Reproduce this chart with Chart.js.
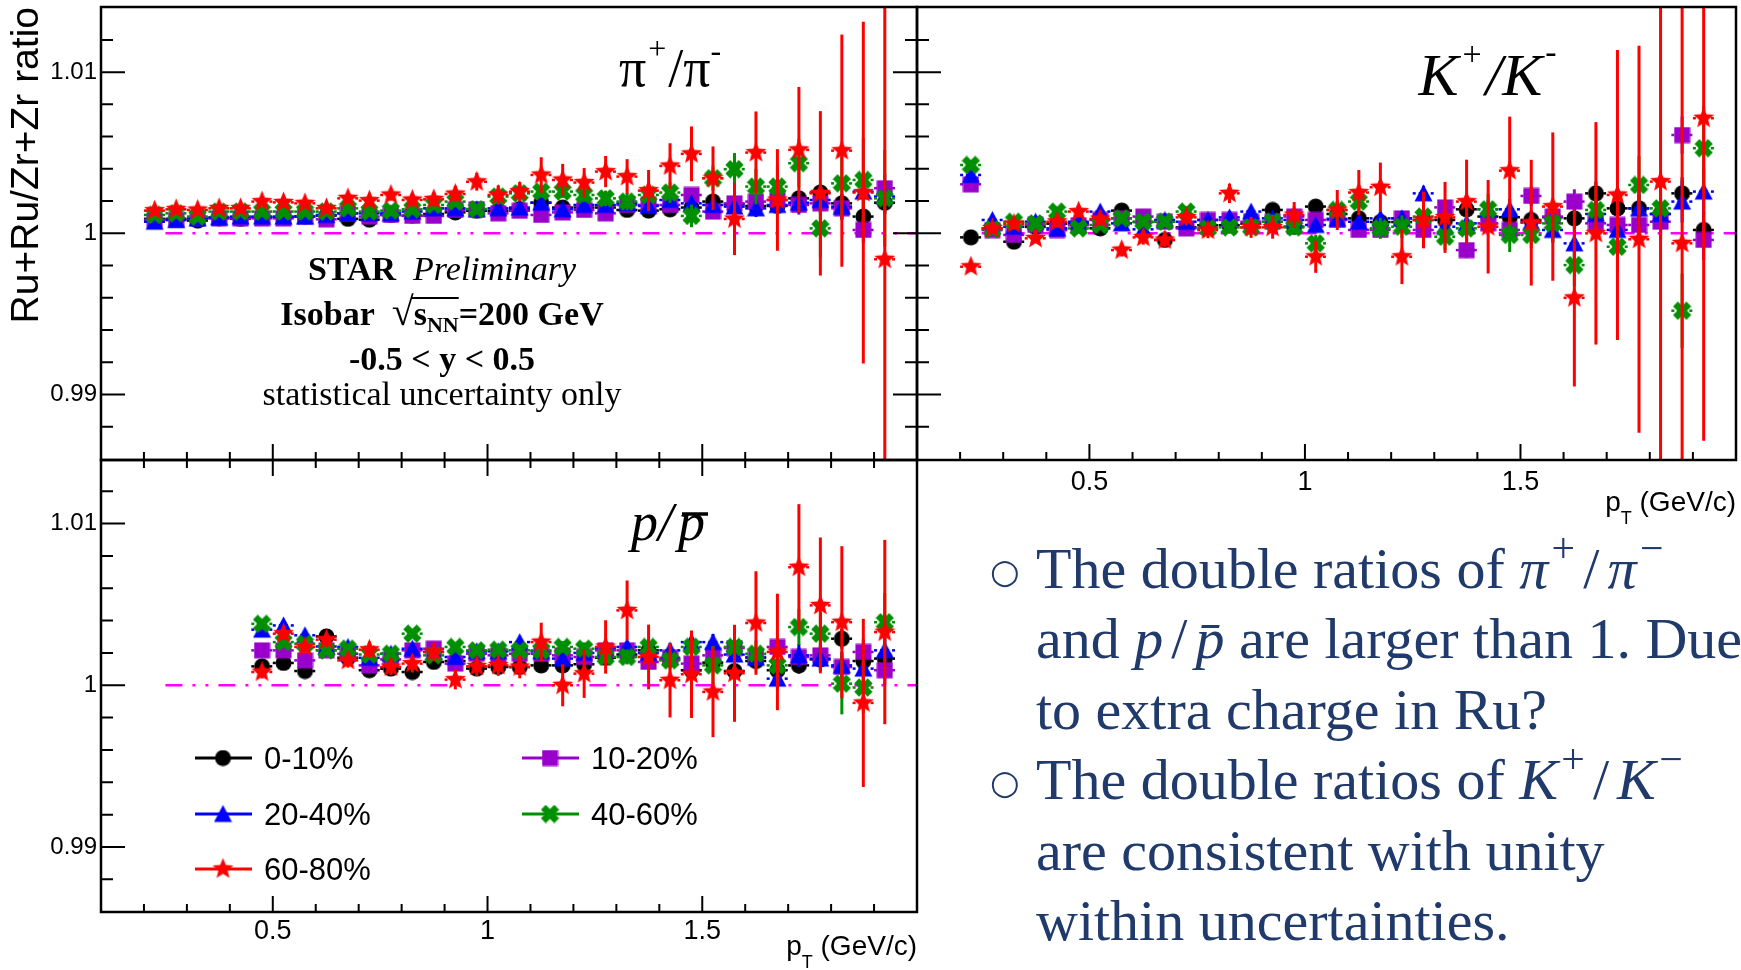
<!DOCTYPE html>
<html>
<head>
<meta charset="utf-8">
<script src="https://cdn.jsdelivr.net/npm/chart.js@4.4.1/dist/chart.umd.min.js"></script>
<style>
    body { margin: 0; width: 1741px; height: 970px; overflow: hidden; background: #fff; position: relative; }
    canvas { position: absolute; }
    #notes { position: absolute; left: 1036px; top: 534px; font-family: 'Liberation Serif', 'Times New Roman', serif;
             font-size: 58px; line-height: 70.4px; color: #1f3a6b; white-space: nowrap; }
    #notes .ln { position: relative; height: 70.4px; }
    #notes .bul { position: absolute; left: -46px; top: 20px; font-family: 'DejaVu Sans', sans-serif; font-size: 34px; line-height: 34px; }
    #notes sup { font-size: 0.72em; line-height: 0; vertical-align: 0.62em; padding-left: 0.08em; }
    #notes .sl { padding: 0 0.14em; }
</style>
</head>
<body>
<canvas id="piChart" width="925" height="470" style="left:0;top:0"></canvas>
<canvas id="kChart" width="836" height="530" style="left:905px;top:0"></canvas>
<canvas id="pChart" width="925" height="520" style="left:0;top:450px"></canvas>

<div id="notes">
    <div class="ln"><span class="bul">○</span>The double ratios of <i>π</i><sup>+</sup><span class="sl">/</span><i>π</i><sup>−</sup></div>
    <div class="ln">and <i>p</i><span class="sl">/</span><i>p̄</i> are larger than 1. Due</div>
    <div class="ln">to extra charge in Ru?</div>
    <div class="ln"><span class="bul">○</span>The double ratios of <i>K</i><sup>+</sup><span class="sl">/</span><i>K</i><sup>−</sup></div>
    <div class="ln">are consistent with unity</div>
    <div class="ln">within uncertainties.</div>
</div>

<script>
// --- datos: pT de cada bin ---
const PT_PI = [0.225, 0.275, 0.325, 0.375, 0.425, 0.475, 0.525, 0.575, 0.625, 0.675, 0.725, 0.775, 0.825, 0.875, 0.925, 0.975, 1.025, 1.075, 1.125, 1.175, 1.225, 1.275, 1.325, 1.375, 1.425, 1.475, 1.525, 1.575, 1.625, 1.675, 1.725, 1.775, 1.825, 1.875, 1.925];
const PT_K = [0.225, 0.275, 0.325, 0.375, 0.425, 0.475, 0.525, 0.575, 0.625, 0.675, 0.725, 0.775, 0.825, 0.875, 0.925, 0.975, 1.025, 1.075, 1.125, 1.175, 1.225, 1.275, 1.325, 1.375, 1.425, 1.475, 1.525, 1.575, 1.625, 1.675, 1.725, 1.775, 1.825, 1.875, 1.925];
const PT_P = [0.475, 0.525, 0.575, 0.625, 0.675, 0.725, 0.775, 0.825, 0.875, 0.925, 0.975, 1.025, 1.075, 1.125, 1.175, 1.225, 1.275, 1.325, 1.375, 1.425, 1.475, 1.525, 1.575, 1.625, 1.675, 1.725, 1.775, 1.825, 1.875, 1.925];

const CENTRALITY = ["0-10%", "10-20%", "20-40%", "40-60%", "60-80%"];

// --- pi+/pi- ---
const PI_0_10  = [1.0009, 1.0009, 1.00079, 1.00095, 1.0009, 1.001, 1.001, 1.00105, 1.0011, 1.0009, 1.00085, 1.00114, 1.0011, 1.0012, 1.0013, 1.0014, 1.0014, 1.0015, 1.0019, 1.0016, 1.0016, 1.0016, 1.00145, 1.00141, 1.00149, 1.0016, 1.00197, 1.0018, 1.0017, 1.0017, 1.00217, 1.00253, 1.00186, 1.00104, 1.0019];
const PI_10_20 = [1.00083, 1.00083, 1.00093, 1.00093, 1.00093, 1.00093, 1.00093, 1.00104, 1.00087, 1.00124, 1.00104, 1.00114, 1.00108, 1.00108, 1.00145, 1.0015, 1.00124, 1.0014, 1.00114, 1.0013, 1.00145, 1.00124, 1.00176, 1.00176, 1.00176, 1.00238, 1.00135, 1.00186, 1.00197, 1.00207, 1.00176, 1.00186, 1.00155, 1.00021, 1.0028];
const PI_20_40 = [1.00072, 1.00083, 1.00093, 1.00099, 1.00104, 1.00104, 1.00104, 1.00104, 1.00114, 1.00124, 1.00124, 1.00124, 1.00135, 1.00155, 1.00155, 1.0015, 1.00155, 1.0016, 1.0019, 1.00149, 1.00176, 1.00176, 1.00186, 1.0017, 1.00207, 1.00186, 1.00176, 1.00166, 1.00155, 1.00176, 1.0019, 1.00207, 1.00166, 1.00259, 1.00228];
const PI_40_60 = [1.00114, 1.00124, 1.00104, 1.00135, 1.00135, 1.00135, 1.00135, 1.00135, 1.00135, 1.00155, 1.00135, 1.00141, 1.00149, 1.00176, 1.00197, 1.0015, 1.00228, 1.00248, 1.00259, 1.00259, 1.00238, 1.00217, 1.00197, 1.00238, 1.00253, 1.00108, 1.00342, 1.00398, 1.0029, 1.0029, 1.00435, 1.00031, 1.0031, 1.00331, 1.00217];
const PI_60_80 = [1.00141, 1.00149, 1.00145, 1.00155, 1.00155, 1.00197, 1.00192, 1.00186, 1.00155, 1.00217, 1.00203, 1.00238, 1.00207, 1.00211, 1.00244, 1.0032, 1.00238, 1.00259, 1.00362, 1.00331, 1.00315, 1.00383, 1.00352, 1.00265, 1.00418, 1.00493, 1.00342, 1.00089, 1.00501, 1.00207, 1.00518, 1.00248, 1.00513, 1.00253, 0.99839];

const PI_0_10_ERR  = [0.00008, 0.00008, 0.00008, 0.00008, 0.00008, 0.00008, 0.00008, 0.00009, 0.00009, 0.00009, 0.0001, 0.0001, 0.00011, 0.00011, 0.00012, 0.00013, 0.00014, 0.00015, 0.00016, 0.00018, 0.0002, 0.00022, 0.00024, 0.00026, 0.00028, 0.00031, 0.00034, 0.00037, 0.0004, 0.00044, 0.00048, 0.00053, 0.00058, 0.00064, 0.0007];
const PI_10_20_ERR = [0.0001, 0.0001, 0.0001, 0.0001, 0.0001, 0.0001, 0.0001, 0.00011, 0.00011, 0.00011, 0.00012, 0.00012, 0.00013, 0.00014, 0.00015, 0.00016, 0.00017, 0.00018, 0.0002, 0.00022, 0.00024, 0.00026, 0.00029, 0.00032, 0.00035, 0.00038, 0.00042, 0.00046, 0.0005, 0.00055, 0.0006, 0.00066, 0.00072, 0.0008, 0.00088];
const PI_20_40_ERR = [0.0001, 0.0001, 0.0001, 0.0001, 0.0001, 0.0001, 0.00011, 0.00011, 0.00012, 0.00012, 0.00013, 0.00013, 0.00014, 0.00015, 0.00016, 0.00017, 0.00018, 0.0002, 0.00022, 0.00024, 0.00026, 0.00028, 0.00031, 0.00034, 0.00037, 0.00041, 0.00045, 0.00049, 0.00054, 0.00059, 0.00065, 0.00071, 0.00078, 0.00086, 0.00095];
const PI_40_60_ERR = [0.00015, 0.00015, 0.00015, 0.00015, 0.00015, 0.00016, 0.00016, 0.00017, 0.00018, 0.00019, 0.0002, 0.00021, 0.00022, 0.00024, 0.00026, 0.00028, 0.0003, 0.00033, 0.00036, 0.0004, 0.00044, 0.00048, 0.00053, 0.00058, 0.00064, 0.0007, 0.00078, 0.001, 0.0011, 0.0013, 0.0015, 0.0018, 0.0022, 0.0026, 0.003];
const PI_60_80_ERR = [0.0002, 0.0002, 0.0002, 0.0002, 0.0002, 0.00025, 0.00025, 0.00025, 0.0003, 0.0003, 0.00035, 0.00035, 0.0004, 0.00045, 0.0005, 0.00055, 0.0006, 0.0006, 0.0011, 0.001, 0.0009, 0.00097, 0.00108, 0.00128, 0.00141, 0.0017, 0.00197, 0.00224, 0.00255, 0.00315, 0.0039, 0.0051, 0.0072, 0.0106, 0.02];

// --- K+/K- ---
const K_0_10  = [0.99975, 1.0003, 0.99948, 1.0004, 1.0006, 1.0006, 1.00031, 1.00141, 1.0007, 0.99959, 1.00037, 1.0005, 1.0005, 1.0006, 1.00145, 1.00041, 1.00166, 1.0012, 1.00093, 1.0007, 1.0007, 1.00083, 1.00083, 1.00149, 1.00104, 1.001, 1.00083, 1.001, 1.00093, 1.00248, 1.00155, 1.00155, 1.0012, 1.00248, 1.00021];
const K_10_20 = [1.00304, 1.0002, 0.9999, 1.00052, 1.0002, 1.0005, 1.00083, 1.00093, 1.00104, 1.00072, 1.00031, 1.00083, 1.00083, 1.00072, 1.00072, 1.00104, 1.00083, 1.00083, 1.00021, 1.00021, 1.00093, 1.00021, 1.00161, 0.99896, 1.00062, 1.00021, 1.00232, 1.00104, 1.00197, 1.00062, 1.00052, 1.00052, 1.00072, 1.0061, 0.99959];
const K_20_40 = [1.00362, 1.00083, 1.00041, 1.00072, 1.00031, 1.00072, 1.00135, 1.00062, 1.00025, 1.00083, 1.00072, 1.00083, 1.00099, 1.00135, 1.00093, 1.00083, 1.00052, 1.0009, 1.00072, 1.00093, 1.00093, 1.00248, 1.00041, 1.00062, 1.00149, 1.00149, 1.0007, 1.00021, 0.99938, 1.0012, 1.00021, 1.00155, 1.0012, 1.00197, 1.00259];
const K_40_60 = [1.00424, 1.00025, 1.00072, 1.00062, 1.00135, 1.00031, 1.00052, 1.00093, 1.00072, 1.00072, 1.00135, 1.00031, 1.00037, 1.00037, 1.00072, 1.00037, 0.99938, 1.00145, 1.00197, 1.00031, 1.00041, 1.00104, 0.99979, 1.00031, 1.00149, 0.9999, 0.9999, 1.00062, 0.99803, 1.00145, 0.99917, 1.003, 1.00155, 0.9952, 1.00528];
const K_60_80 = [0.99793, 1.00031, 1.00058, 0.99969, 1.00072, 1.00135, 1.00089, 0.99896, 0.99975, 0.99959, 1.00099, 1.0002, 1.00248, 1.00037, 1.00037, 1.00114, 0.99855, 1.00145, 1.00253, 1.00286, 0.99855, 1.00083, 1.00099, 1.00197, 1.00041, 1.00389, 1.00066, 1.00166, 0.996, 1.0, 1.00238, 0.99963, 1.00321, 0.99938, 1.00714];

const K_0_10_ERR  = [0.00012, 0.00012, 0.00012, 0.00012, 0.00012, 0.00013, 0.00013, 0.00014, 0.00014, 0.00015, 0.00016, 0.00017, 0.00018, 0.00019, 0.0002, 0.00022, 0.00024, 0.00026, 0.00028, 0.0003, 0.00033, 0.00036, 0.00039, 0.00042, 0.00046, 0.0005, 0.00055, 0.0006, 0.00066, 0.00072, 0.00079, 0.00086, 0.00094, 0.001, 0.0011];
const K_10_20_ERR = [0.00014, 0.00014, 0.00014, 0.00014, 0.00014, 0.00015, 0.00015, 0.00016, 0.00016, 0.00017, 0.00018, 0.00019, 0.0002, 0.00022, 0.00023, 0.00025, 0.00027, 0.0003, 0.00032, 0.00035, 0.00038, 0.00041, 0.00045, 0.00048, 0.00053, 0.00058, 0.00063, 0.00069, 0.00076, 0.00083, 0.0009, 0.00099, 0.00108, 0.00115, 0.00126];
const K_20_40_ERR = [0.00016, 0.00016, 0.00016, 0.00016, 0.00016, 0.00017, 0.00017, 0.00018, 0.00018, 0.0002, 0.00021, 0.00022, 0.00023, 0.00025, 0.00026, 0.00029, 0.00031, 0.00034, 0.00036, 0.00039, 0.00043, 0.00047, 0.00051, 0.00055, 0.0006, 0.00065, 0.00072, 0.00078, 0.00086, 0.00094, 0.00103, 0.00112, 0.00122, 0.0013, 0.00143];
const K_40_60_ERR = [0.0002, 0.0002, 0.0002, 0.0002, 0.0002, 0.00022, 0.00024, 0.00026, 0.00028, 0.0003, 0.00032, 0.00034, 0.00036, 0.0004, 0.00044, 0.00048, 0.00052, 0.00056, 0.0006, 0.00065, 0.0007, 0.00076, 0.00082, 0.0009, 0.00098, 0.00106, 0.0008, 0.0012, 0.0013, 0.0014, 0.0016, 0.0018, 0.002, 0.0023, 0.0026];
const K_60_80_ERR = [0.0003, 0.0003, 0.0003, 0.0003, 0.00035, 0.00035, 0.0004, 0.0004, 0.00045, 0.00045, 0.0005, 0.0005, 0.0006, 0.00065, 0.0007, 0.0008, 0.001, 0.00124, 0.0014, 0.00153, 0.0017, 0.00176, 0.0022, 0.0026, 0.0029, 0.00335, 0.0039, 0.0046, 0.0055, 0.0069, 0.009, 0.012, 0.018, 0.02, 0.02];

// --- p/pbar ---
const P_0_10  = [1.00117, 1.00138, 1.00088, 1.00302, 1.0017, 1.00093, 1.00103, 1.00082, 1.00144, 1.0015, 1.00103, 1.00113, 1.00113, 1.00123, 1.00123, 1.0013, 1.0017, 1.0019, 1.00216, 1.0016, 1.00093, 1.0014, 1.00088, 1.0015, 1.00093, 1.00123, 1.0016, 1.00288, 1.0015, 1.00165];
const P_10_20 = [1.00216, 1.00216, 1.00154, 1.00216, 1.00195, 1.00123, 1.0016, 1.00216, 1.00226, 1.00134, 1.00195, 1.00185, 1.00195, 1.00195, 1.00185, 1.00175, 1.00216, 1.00216, 1.00144, 1.0017, 1.00134, 1.00185, 1.0023, 1.00175, 1.00237, 1.00175, 1.00185, 1.00113, 1.00206, 1.00093];
const P_20_40 = [1.00344, 1.0037, 1.00309, 1.0024, 1.00237, 1.0017, 1.00195, 1.00226, 1.00206, 1.00175, 1.0021, 1.0021, 1.00267, 1.0021, 1.00165, 1.002, 1.0023, 1.00237, 1.002, 1.00216, 1.00267, 1.00267, 1.0019, 1.0017, 1.00041, 1.00185, 1.00165, 1.00123, 1.00103, 1.00216];
const P_40_60 = [1.0038, 1.00267, 1.00257, 1.00216, 1.00226, 1.0019, 1.00195, 1.00319, 1.00185, 1.00237, 1.00216, 1.0022, 1.00216, 1.00216, 1.00237, 1.00226, 1.00175, 1.00175, 1.00237, 1.00154, 1.00237, 1.00123, 1.00237, 1.00195, 1.00123, 1.0036, 1.00319, 1.0001, 0.99986, 1.0039];
const P_60_80 = [1.00082, 1.00319, 1.00237, 1.00282, 1.00154, 1.0022, 1.00113, 1.00134, 1.00206, 1.00035, 1.00117, 1.00123, 1.00113, 1.00267, 1.0, 1.00072, 1.00237, 1.00463, 1.00175, 1.00031, 1.00068, 0.99959, 1.00074, 1.00385, 1.00206, 1.0073, 1.00494, 1.0039, 0.99891, 1.00329];

const P_0_10_ERR  = [0.00012, 0.00012, 0.00012, 0.00013, 0.00013, 0.00013, 0.00014, 0.00014, 0.00015, 0.00015, 0.00016, 0.00017, 0.00018, 0.00019, 0.0002, 0.00022, 0.00024, 0.00026, 0.00028, 0.0003, 0.00033, 0.00036, 0.00039, 0.00043, 0.00047, 0.00051, 0.00056, 0.00062, 0.00068, 0.00075];
const P_10_20_ERR = [0.00014, 0.00014, 0.00014, 0.00015, 0.00015, 0.00015, 0.00016, 0.00016, 0.00017, 0.00018, 0.00019, 0.0002, 0.00021, 0.00022, 0.00024, 0.00026, 0.00028, 0.0003, 0.00033, 0.00036, 0.00039, 0.00042, 0.00046, 0.0005, 0.00055, 0.0006, 0.00066, 0.00072, 0.00079, 0.00087];
const P_20_40_ERR = [0.00016, 0.00016, 0.00016, 0.00017, 0.00017, 0.00018, 0.00018, 0.00019, 0.0002, 0.00021, 0.00022, 0.00023, 0.00025, 0.00026, 0.00028, 0.0003, 0.00033, 0.00036, 0.00039, 0.00042, 0.00046, 0.0005, 0.00055, 0.0006, 0.00065, 0.00071, 0.00078, 0.00085, 0.00093, 0.001];
const P_40_60_ERR = [0.0002, 0.0002, 0.0002, 0.0002, 0.0002, 0.00022, 0.00022, 0.00024, 0.00024, 0.00026, 0.00028, 0.0003, 0.00032, 0.00034, 0.00036, 0.00039, 0.00042, 0.00046, 0.0005, 0.00055, 0.001, 0.0012, 0.0007, 0.0008, 0.0009, 0.0011, 0.0013, 0.0019, 0.0016, 0.0018];
const P_60_80_ERR = [0.0004, 0.0004, 0.0004, 0.00045, 0.00045, 0.0005, 0.0005, 0.00055, 0.00055, 0.0006, 0.0006, 0.00065, 0.0007, 0.0012, 0.0013, 0.0015, 0.00165, 0.00185, 0.002, 0.0023, 0.0027, 0.0028, 0.003, 0.0032, 0.0036, 0.0039, 0.0042, 0.0047, 0.0052, 0.0057];

// --- ejes ---
const X_RANGE = [0.1, 2.0];
const Y_RANGE_TOP = [0.98594, 1.01404];
const Y_RANGE_BOTTOM = [0.98598, 1.01393];
const X_MAJOR = [0.5, 1.0, 1.5];
const X_TICK_LABELS = ["0.5", "1", "1.5"];
const X_MINOR = [0.2, 0.3, 0.4, 0.6, 0.7, 0.8, 0.9, 1.1, 1.2, 1.3, 1.4, 1.6, 1.7, 1.8, 1.9];
const Y_MAJOR = [0.99, 1.0, 1.01];
const Y_TICK_LABELS = ["0.99", "1", "1.01"];
const Y_MINOR = [0.988, 0.992, 0.994, 0.996, 0.998, 1.002, 1.004, 1.006, 1.008, 1.012];
const UNITY_X = [0.25, 2.0];
const UNITY_Y = 1.0;
const BIN_HALF = 0.025;

const SANS = "'Liberation Sans', Arial, sans-serif";
const SERIF = "'Liberation Serif', 'Times New Roman', serif";

const SERIES_STYLE = [
    { color: "#000000", shape: "circle", size: 17 },
    { color: "#9900cc", shape: "square", size: 17 },
    { color: "#0000ff", shape: "triangle", size: 19 },
    { color: "#008f00", shape: "cross", size: 19 },
    { color: "#ff0000", shape: "star", size: 23 }
];

// --- marcadores tipo ROOT ---
function markerCanvas(shape, color, size) {
    const c = document.createElement("canvas");
    c.width = size; c.height = size;
    const g = c.getContext("2d");
    const m = size / 2;
    g.fillStyle = color;
    g.beginPath();
    if (shape === "circle") {
        g.arc(m, m, m - 0.5, 0, Math.PI * 2);
    } else if (shape === "square") {
        g.rect(0.5, 0.5, size - 1, size - 1);
    } else if (shape === "triangle") {
        g.moveTo(m, 0.5); g.lineTo(size - 0.5, size - 1.5); g.lineTo(0.5, size - 1.5); g.closePath();
    } else if (shape === "star") {
        for (let i = 0; i < 10; i++) {
            const r = i % 2 ? m * 0.42 : m - 0.5;
            const a = -Math.PI / 2 + i * Math.PI / 5;
            g.lineTo(m + r * Math.cos(a), m + r * Math.sin(a));
        }
        g.closePath();
    }
    g.fill();
    if (shape === "cross") {
        const w = size * 0.36;
        g.translate(m, m);
        g.rotate(Math.PI / 4);
        g.fillRect(-m, -w / 2, 2 * m, w);
        g.fillRect(-w / 2, -m, w, 2 * m);
    }
    return c;
}
const MARKERS = SERIES_STYLE.map(s => markerCanvas(s.shape, s.color, s.size));

function buildDatasets(pt, values, errors) {
    const sets = values.map((vals, k) => ({
        label: CENTRALITY[k],
        data: pt.map((x, i) => ({ x: x, y: vals[i] })),
        errors: errors[k],
        borderColor: SERIES_STYLE[k].color,
        backgroundColor: SERIES_STYLE[k].color,
        pointStyle: MARKERS[k],
        pointRadius: 9,
        order: 4 - k
    }));
    sets.push({
        label: "unity",
        data: UNITY_X.map(x => ({ x: x, y: UNITY_Y })),
        showLine: true,
        borderColor: "#ff00ff",
        borderWidth: 2.5,
        borderDash: [17, 10, 3, 10, 3, 10],
        pointRadius: 0,
        order: 10
    });
    return sets;
}

// --- barras de error (verticales sólidas, horizontales punteadas) ---
const errorBarPlugin = {
    id: "errorBars",
    beforeDatasetDraw(chart, args) {
        const ds = chart.data.datasets[args.index];
        if (!ds.errors) return;
        const { ctx, chartArea: a } = chart;
        const x = chart.scales.x, y = chart.scales.y;
        ctx.save();
        ctx.beginPath();
        ctx.rect(a.left, a.top, a.width, a.height);
        ctx.clip();
        ctx.strokeStyle = ds.borderColor;
        ds.data.forEach((p, i) => {
            const px = x.getPixelForValue(p.x);
            const py = y.getPixelForValue(p.y);
            ctx.setLineDash([]);
            ctx.lineWidth = 3;
            ctx.beginPath();
            ctx.moveTo(px, y.getPixelForValue(p.y - ds.errors[i]));
            ctx.lineTo(px, y.getPixelForValue(p.y + ds.errors[i]));
            ctx.stroke();
            ctx.setLineDash([3, 3]);
            ctx.lineWidth = 2.5;
            ctx.beginPath();
            ctx.moveTo(x.getPixelForValue(p.x - BIN_HALF), py);
            ctx.lineTo(x.getPixelForValue(p.x + BIN_HALF), py);
            ctx.stroke();
        });
        ctx.restore();
    }
};

// --- marco y ticks hacia adentro ---
const framePlugin = {
    id: "frame",
    afterDraw(chart, args, o) {
        const { ctx, chartArea: a } = chart;
        const x = chart.scales.x, y = chart.scales.y;
        ctx.save();
        ctx.strokeStyle = "#000";
        ctx.lineWidth = 2;
        ctx.beginPath();
        const yTick = (v, len) => {
            const py = y.getPixelForValue(v);
            if (o.left) { ctx.moveTo(a.left, py); ctx.lineTo(a.left + len, py); }
            if (o.right) { ctx.moveTo(a.right, py); ctx.lineTo(a.right - len, py); }
        };
        const xTick = (v, len) => {
            const px = x.getPixelForValue(v);
            if (o.bottom) { ctx.moveTo(px, a.bottom); ctx.lineTo(px, a.bottom - len); }
            if (o.top) { ctx.moveTo(px, a.top); ctx.lineTo(px, a.top + len); }
        };
        Y_MAJOR.forEach(v => yTick(v, 24));
        Y_MINOR.forEach(v => yTick(v, 12));
        X_MAJOR.forEach(v => xTick(v, 16));
        X_MINOR.forEach(v => xTick(v, 8));
        ctx.stroke();
        ctx.lineWidth = 2.5;
        ctx.strokeRect(a.left, a.top, a.width, a.height);
        ctx.restore();
    }
};

// texto con tramos de distinta fuente
function drawRuns(ctx, runs, x, y, align) {
    let total = 0;
    runs.forEach(r => { ctx.font = r.f; r.w = ctx.measureText(r.t).width + (r.gap || 0); total += r.w; });
    let cx = align === "center" ? x - total / 2 : align === "right" ? x - total : x;
    ctx.textAlign = "left";
    ctx.textBaseline = "alphabetic";
    runs.forEach(r => {
        ctx.font = r.f;
        ctx.fillText(r.t, cx + (r.gap || 0) / 2, y + (r.dy || 0));
        r.x0 = cx;
        cx += r.w;
    });
    return runs;
}

function ptTitle(ctx, x, y) {
    ctx.fillStyle = "#000";
    drawRuns(ctx, [
        { t: "p", f: `28px ${SANS}` },
        { t: "T", f: `18px ${SANS}`, dy: 13 },
        { t: " (GeV/c)", f: `28px ${SANS}` }
    ], x, y, "right");
}

function xScale(show, height, pad) {
    return {
        type: "linear", min: X_RANGE[0], max: X_RANGE[1], display: show,
        grid: { display: false, drawTicks: false }, border: { display: false },
        afterBuildTicks: s => { s.ticks = X_MAJOR.map(v => ({ value: v })); },
        afterFit: s => { s.height = height; s.paddingLeft = 0; s.paddingRight = 0; },
        ticks: { padding: pad, color: "#000", autoSkip: false, maxRotation: 0,
                 font: { family: SANS, size: 27 }, callback: (v, i) => X_TICK_LABELS[i] }
    };
}

function yScale(show, range, title) {
    return {
        type: "linear", min: range[0], max: range[1], display: show,
        grid: { display: false, drawTicks: false }, border: { display: false },
        afterBuildTicks: s => { s.ticks = Y_MAJOR.map(v => ({ value: v })); },
        afterFit: s => { s.width = show ? 101 : 0; s.paddingTop = 0; s.paddingBottom = 0; },
        ticks: { padding: 4, color: "#000", autoSkip: false,
                 font: { family: SANS, size: 24 }, callback: (v, i) => Y_TICK_LABELS[i] },
        title: title ? { display: true, text: title, align: "end", color: "#000",
                         font: { family: SANS, size: 39 }, padding: { top: 4, bottom: 0 } } : { display: false }
    };
}

function baseOptions(padding, frame, xs, ys) {
    return {
        responsive: false, animation: false, devicePixelRatio: 1, events: [],
        layout: { padding: padding, autoPadding: false },
        plugins: { legend: { display: false }, tooltip: { enabled: false }, frame: frame },
        scales: { x: xs, y: ys }
    };
}

// --- pi+/pi- ---
new Chart(document.getElementById("piChart"), {
    type: "scatter",
    data: { datasets: buildDatasets(PT_PI, [PI_0_10, PI_10_20, PI_20_40, PI_40_60, PI_60_80],
                                    [PI_0_10_ERR, PI_10_20_ERR, PI_20_40_ERR, PI_40_60_ERR, PI_60_80_ERR]) },
    options: baseOptions({ left: 0, top: 7, right: 8, bottom: 10 },
                         { left: true, right: true, bottom: true },
                         xScale(false, 0, 0), yScale(true, Y_RANGE_TOP, "Ru+Ru/Zr+Zr ratio")),
    plugins: [errorBarPlugin, framePlugin, {
        id: "piText",
        afterDraw(chart) {
            const ctx = chart.ctx;
            ctx.save();
            ctx.fillStyle = "#000";
            drawRuns(ctx, [
                { t: "π", f: `54px ${SERIF}` },
                { t: "+", f: `32px ${SERIF}`, dy: -27, gap: 4 },
                { t: "/", f: `54px ${SERIF}` },
                { t: "π", f: `54px ${SERIF}` },
                { t: "-", f: `32px ${SERIF}`, dy: -25 }
            ], 670, 86, "center");

            drawRuns(ctx, [
                { t: "STAR", f: `bold 34px ${SERIF}` },
                { t: "  ", f: `34px ${SERIF}` },
                { t: "Preliminary", f: `italic 34px ${SERIF}` }
            ], 442, 280, "center");
            const r = drawRuns(ctx, [
                { t: "Isobar", f: `bold 34px ${SERIF}` },
                { t: "  ", f: `bold 34px ${SERIF}` },
                { t: "√", f: `40px ${SERIF}` },
                { t: "s", f: `bold 34px ${SERIF}` },
                { t: "NN", f: `bold 22px ${SERIF}`, dy: 7 },
                { t: "=200 GeV", f: `bold 34px ${SERIF}` }
            ], 442, 325, "center");
            ctx.lineWidth = 2;
            ctx.beginPath();
            ctx.moveTo(r[2].x0 + r[2].w - 2, 298);
            ctx.lineTo(r[4].x0 + r[4].w, 298);
            ctx.stroke();
            drawRuns(ctx, [{ t: "-0.5 < y < 0.5", f: `bold 34px ${SERIF}` }], 442, 370, "center");
            drawRuns(ctx, [{ t: "statistical uncertainty only", f: `34px ${SERIF}` }], 442, 405, "center");
            ctx.restore();
        }
    }]
});

// --- K+/K- ---
new Chart(document.getElementById("kChart"), {
    type: "scatter",
    data: { datasets: buildDatasets(PT_K, [K_0_10, K_10_20, K_20_40, K_40_60, K_60_80],
                                    [K_0_10_ERR, K_10_20_ERR, K_20_40_ERR, K_40_60_ERR, K_60_80_ERR]) },
    options: baseOptions({ left: 12, top: 7, right: 5, bottom: 0 },
                         { left: true, bottom: true },
                         xScale(true, 70, 6), yScale(false, Y_RANGE_TOP, null)),
    plugins: [errorBarPlugin, framePlugin, {
        id: "kText",
        afterDraw(chart) {
            const ctx = chart.ctx;
            ctx.save();
            ctx.fillStyle = "#000";
            drawRuns(ctx, [
                { t: "K", f: `italic 60px ${SERIF}` },
                { t: "+", f: `34px ${SERIF}`, dy: -30, gap: 8 },
                { t: "/", f: `italic 60px ${SERIF}` },
                { t: "K", f: `italic 60px ${SERIF}` },
                { t: "-", f: `34px ${SERIF}`, dy: -32, gap: 6 }
            ], 584, 95, "center");
            ptTitle(ctx, chart.chartArea.right, 511);
            ctx.restore();
        }
    }]
});

// --- p/pbar + leyenda ---
new Chart(document.getElementById("pChart"), {
    type: "scatter",
    data: { datasets: buildDatasets(PT_P, [P_0_10, P_10_20, P_20_40, P_40_60, P_60_80],
                                    [P_0_10_ERR, P_10_20_ERR, P_20_40_ERR, P_40_60_ERR, P_60_80_ERR]) },
    options: baseOptions({ left: 0, top: 10, right: 8, bottom: 0 },
                         { left: true, top: true, bottom: true },
                         xScale(true, 58, 3), yScale(true, Y_RANGE_BOTTOM, null)),
    plugins: [errorBarPlugin, framePlugin, {
        id: "pText",
        afterDraw(chart) {
            const ctx = chart.ctx;
            ctx.save();
            ctx.fillStyle = "#000";
            ctx.strokeStyle = "#000";
            const r = drawRuns(ctx, [
                { t: "p", f: `italic 54px ${SERIF}` },
                { t: "/", f: `italic 54px ${SERIF}` },
                { t: " ", f: `20px ${SERIF}` },
                { t: "p", f: `italic 54px ${SERIF}` }
            ], 668, 90, "center");
            ctx.lineWidth = 3.5;
            ctx.beginPath();
            ctx.moveTo(r[3].x0 + 4, 64);
            ctx.lineTo(r[3].x0 + r[3].w + 3, 64);
            ctx.stroke();

            // leyenda: [columna x, fila y] por serie
            const slots = [[195, 308], [522, 308], [195, 364], [522, 364], [195, 419]];
            ctx.font = `31px ${SANS}`;
            ctx.textBaseline = "middle";
            slots.forEach(([lx, ly], k) => {
                ctx.strokeStyle = SERIES_STYLE[k].color;
                ctx.lineWidth = 3;
                ctx.beginPath();
                ctx.moveTo(lx, ly);
                ctx.lineTo(lx + 57, ly);
                ctx.stroke();
                const mk = MARKERS[k];
                ctx.drawImage(mk, lx + 28 - mk.width / 2, ly - mk.height / 2);
                ctx.fillStyle = "#000";
                ctx.fillText(CENTRALITY[k], lx + 69, ly + 2);
            });
            ptTitle(ctx, chart.chartArea.right, 505);
            ctx.restore();
        }
    }]
});
</script>
</body>
</html>
